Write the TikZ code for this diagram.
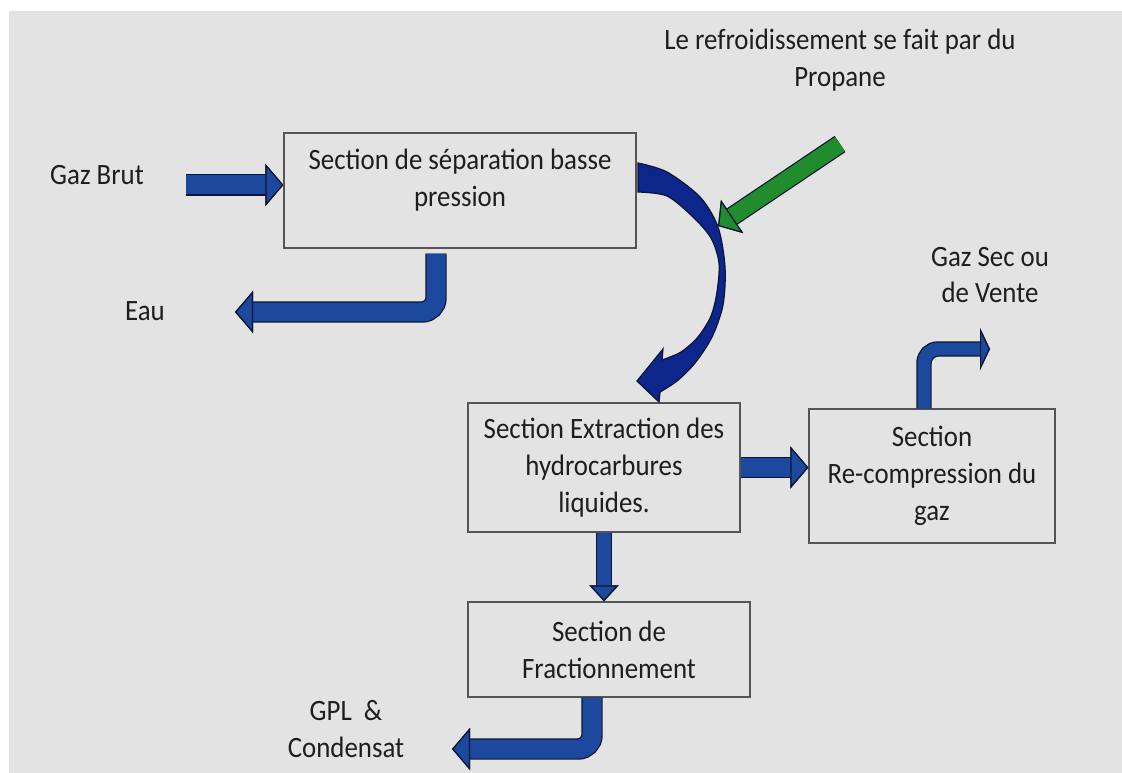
\documentclass[tikz,border=0pt]{standalone}
\usepackage{fontspec}
\setmainfont{Carlito}[FakeStretch=0.91]
\usetikzlibrary{arrows.meta}
\definecolor{bggray}{RGB}{227,227,227}
\definecolor{boxgray}{RGB}{85,85,85}
\definecolor{textgray}{RGB}{30,30,30}
\definecolor{flowblue}{RGB}{28,72,158}
\definecolor{curveblue}{RGB}{12,38,140}
\definecolor{coolgreen}{RGB}{32,140,45}
\definecolor{edgedark}{RGB}{12,22,50}
\begin{document}
\begin{tikzpicture}[x=0.02cm, y=-0.02cm,
    every node/.style={font=\fontsize{16.8}{21}\selectfont, text=textgray},
    secbox/.style={draw=boxgray, line width=0.7pt, fill=bggray, align=center},
    lbl/.style={align=center},
    flow/.style n args={4}{line width=#1, rounded corners=0.28cm, draw=#4,
        -{Triangle[length=#2, width=#3, line width=0.7pt, fill=#4, color=edgedark]},
        preaction={draw=edgedark, line width=#1+1.4pt}},
    bigflow/.style={flow={0.38cm}{0.36cm}{0.84cm}{flowblue}}]

    % Background
    \useasboundingbox (0,0) rectangle (1122,773);
    \fill[bggray] (9,11) rectangle (1122,773);

    % Define nodes for the sections
    \node[secbox, minimum width=7.04cm, minimum height=2.3cm] (sep) at (460,190.5) {};
    \node[lbl] (septext) at ([yshift=0.2cm]sep.center) {Section de séparation basse\\pression};
    \node[secbox, minimum width=5.44cm, minimum height=2.58cm] (ext) at (604,467.5) {Section Extraction des\\hydrocarbures\\liquides.};
    \node[secbox, minimum width=4.92cm, minimum height=2.68cm] (rec) at (932,476) {Section\\Re-compression du\\gaz};
    \node[secbox, minimum width=5.64cm, minimum height=1.9cm] (frac) at (609,649.5) {Section de\\Fractionnement};

    % Define nodes for the streams
    \node[lbl] (brut) at (97,175) {Gaz Brut};
    \node[lbl] (eau) at (145,311) {Eau};
    \node[lbl] (prop) at (840,60) {Le refroidissement se fait par du\\Propane};
    \node[lbl] (vente) at (990,275) {Gaz Sec ou\\de Vente};
    \node[lbl] (gpl) at (346,729) {GPL~~\&\\Condensat};

    \coordinate (brutin) at (186,185);
    \coordinate (eauout) at (235,312);
    \coordinate (venteout) at (990,349);
    \coordinate (gplout) at (452,749);
    \coordinate (coolin) at (840,144);
    \coordinate (coolout) at (718,226);

    % Draw flows
    \draw[bigflow] (brutin) -- (brutin -| sep.west);
    \draw[bigflow] ([xshift=-0.48cm, yshift=-0.1cm]sep.south) |- (eauout);
    \draw[bigflow] (ext.east) -- (ext.east -| rec.west);
    \draw[flow={0.28cm}{0.32cm}{0.58cm}{flowblue}] (ext.south) -- (ext.south |- frac.north);
    \draw[flow={0.26cm}{0.2cm}{0.84cm}{flowblue}] ([xshift=-0.16cm]rec.north) |- (venteout);
    \draw[bigflow] ([xshift=-0.34cm]frac.south) |- (gplout);

    % Curved flow to the extraction
    \filldraw[fill=curveblue, draw=edgedark, line width=0.7pt]
        plot[smooth] coordinates {(638,163) (667,172) (700,197) (718,227) (725,267) (723,305) (712,337) (695,363) (677,381) (660,392)}
        -- (659,402) -- (637,381) -- (663,349) -- (662,360)
        -- plot[smooth] coordinates {(662,360) (681,352) (698,337) (711,316) (717,292) (719,263) (711,238) (693,217) (667,196) (638,192)}
        -- cycle;

    % Propane cooling
    \draw[flow={0.34cm}{0.34cm}{0.8cm}{coolgreen}] (coolin) -- (coolout);

\end{tikzpicture}
\end{document}
